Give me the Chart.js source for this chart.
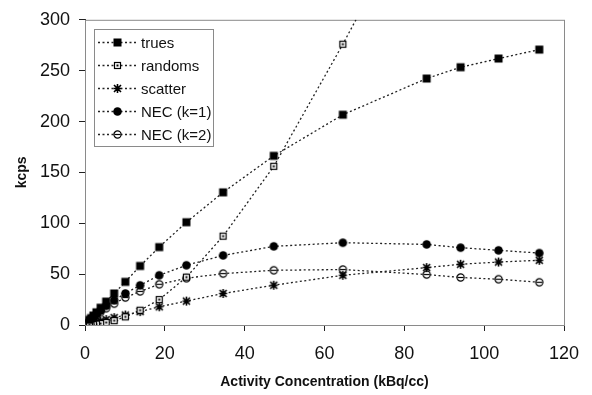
<!DOCTYPE html>
<html>
<head>
<meta charset="utf-8">
<script src="https://cdn.jsdelivr.net/npm/chart.js@4.4.1/dist/chart.umd.min.js"></script>
<style>
  html, body { margin: 0; padding: 0; background: #fff; }
  #wrap { width: 592px; height: 395px; }
</style>
</head>
<body>
<div id="wrap"><canvas id="chart" width="592" height="395"></canvas></div>
<script>
// activity concentration (kBq/cc)
var activity = [113.8, 103.6, 94.1, 85.6, 64.6, 47.3, 34.6, 25.4, 18.6, 13.8, 10.1, 7.3, 5.3, 3.9, 2.85, 2.1, 1.5, 1.1];
// count rates (kcps)
var trues   = [270.7, 261.9, 253.4, 242.3, 206.7, 166.3, 130.4, 101, 76.6, 58, 42.4, 31, 23, 17, 12.5, 9.3, 6.8, 5.0];
var randoms = [760, 630, 520, 430, 276, 156, 87.3, 47, 25, 14.5, 8, 4.3, 2.4, 1.4, 0.8, 0.45, 0.25, 0.12];
var scatter = [63.6, 61.9, 59.7, 56.4, 48.9, 39.1, 31, 23.5, 17.9, 13.2, 9.8, 7.2, 5.3, 3.9, 2.9, 2.1, 1.5, 1.1];
var nec1    = [70.7, 73.4, 76, 79.2, 80.9, 77.3, 68.4, 58.7, 48.9, 39, 31, 24.4, 18.8, 14.2, 10.6, 7.9, 5.7, 4.2];
var nec2    = [42, 45, 46.7, 49.6, 54.5, 53.8, 50.5, 46, 40, 33, 27, 21, 16.5, 12.8, 9.7, 7.3, 5.3, 4.0];

var xTicks = [0, 20, 40, 60, 80, 100, 120];
var yTicks = [0, 50, 100, 150, 200, 250, 300];

function toXY(ys) {
    return activity.map(function(x, i) { return { x: x, y: ys[i] }; });
}

// little marker images, drawn once
function marker(kind) {
    var c = document.createElement('canvas');
    c.width = 11; c.height = 11;
    var g = c.getContext('2d');
    g.fillStyle = '#000'; g.strokeStyle = '#000'; g.lineWidth = 1;
    if (kind === 'sq') {
        g.fillRect(1.5, 1.5, 8, 8);
    } else if (kind === 'sqo') {
        g.fillStyle = '#fff'; g.fillRect(2, 2, 7, 7);
        g.lineWidth = 1.2;
        g.strokeRect(2.5, 2.5, 6, 6);
        g.fillStyle = '#000'; g.fillRect(4.5, 4.5, 2, 2);
    } else if (kind === 'star') {
        g.lineWidth = 1.6;
        g.beginPath();
        g.moveTo(2, 2); g.lineTo(9, 9);
        g.moveTo(9, 2); g.lineTo(2, 9);
        g.moveTo(5.5, 1); g.lineTo(5.5, 10);
        g.moveTo(1.5, 5.5); g.lineTo(9.5, 5.5);
        g.stroke();
    } else if (kind === 'dot') {
        g.beginPath(); g.arc(5.5, 5.5, 4.3, 0, Math.PI * 2); g.fill();
    } else if (kind === 'ring') {
        g.fillStyle = '#fff';
        g.lineWidth = 1.2;
        g.beginPath(); g.arc(5.5, 5.5, 3.6, 0, Math.PI * 2); g.fill(); g.stroke();
        g.beginPath(); g.moveTo(2.5, 5.5); g.lineTo(8.5, 5.5); g.stroke();
    }
    return c;
}

var series = [
    { label: 'trues',      data: trues,   img: marker('sq') },
    { label: 'randoms',    data: randoms, img: marker('sqo') },
    { label: 'scatter',    data: scatter, img: marker('star') },
    { label: 'NEC (k=1)',  data: nec1,    img: marker('dot') },
    { label: 'NEC (k=2)',  data: nec2,    img: marker('ring') }
];

// grey frame round the plot area
var frame = {
    id: 'frame',
    beforeDatasetsDraw: function(chart) {
        var a = chart.chartArea, ctx = chart.ctx;
        ctx.save();
        ctx.strokeStyle = '#8a8a8a';
        ctx.lineWidth = 1;
        ctx.strokeRect(a.left + 0.5, a.top + 0.5, a.right - a.left, a.bottom - a.top);
        ctx.restore();
    }
};

// legend box in the upper left corner of the plot
var boxLegend = {
    id: 'boxLegend',
    afterDraw: function(chart) {
        var ctx = chart.ctx;
        var x0 = 94, y0 = 29, w = 119, h = 117;
        ctx.save();
        ctx.fillStyle = '#fff';
        ctx.fillRect(x0, y0, w, h);
        ctx.strokeStyle = '#8a8a8a';
        ctx.lineWidth = 1;
        ctx.strokeRect(x0 + 0.5, y0 + 0.5, w, h);
        ctx.font = '15px "Liberation Sans", Arial, sans-serif';
        ctx.textBaseline = 'middle';
        series.forEach(function(s, i) {
            var y = 42.5 + i * 23;
            ctx.strokeStyle = '#222';
            ctx.lineWidth = 1.3;
            ctx.setLineDash([2, 2.5]);
            ctx.beginPath(); ctx.moveTo(98, y); ctx.lineTo(138, y); ctx.stroke();
            ctx.setLineDash([]);
            ctx.drawImage(s.img, 112, Math.round(y - 5.5));
            ctx.fillStyle = '#111';
            ctx.fillText(s.label, 141, y + 1);
        });
        ctx.restore();
    }
};

var tickFont = { family: '"Liberation Sans", Arial, sans-serif', size: 18 };
var titleFont = { family: '"Liberation Sans", Arial, sans-serif', size: 14, weight: 'bold' };

new Chart(document.getElementById('chart'), {
    type: 'scatter',
    data: {
        datasets: series.map(function(s) {
            return {
                label: s.label,
                data: toXY(s.data),
                showLine: true,
                borderColor: '#222',
                borderWidth: 1.3,
                borderDash: [2, 2.5],
                pointStyle: s.img,
                pointRadius: 5,
                pointHoverRadius: 5
            };
        })
    },
    plugins: [frame, boxLegend],
    options: {
        responsive: false,
        animation: false,
        layout: { padding: { left: 10, right: 28, top: 18, bottom: 0 } },
        plugins: { legend: { display: false }, tooltip: { enabled: false } },
        scales: {
            x: {
                type: 'linear', min: 0, max: 120,
                afterBuildTicks: function(s) { s.ticks = xTicks.map(function(v) { return { value: v }; }); },
                afterFit: function(s) { s.height = 70; },
                grid: { drawOnChartArea: false, drawTicks: true, tickLength: 6, color: '#222' },
                border: { display: true, color: '#222', width: 1 },
                ticks: { font: tickFont, color: '#111', padding: 12, maxRotation: 0 },
                title: { display: true, text: 'Activity Concentration (kBq/cc)', font: titleFont, color: '#111', padding: { top: 4, bottom: 4 } }
            },
            y: {
                type: 'linear', min: 0, max: 300,
                afterBuildTicks: function(s) { s.ticks = yTicks.map(function(v) { return { value: v }; }); },
                afterFit: function(s) { s.width = 75; },
                grid: { drawOnChartArea: false, drawTicks: true, tickLength: 6, color: '#222' },
                border: { display: true, color: '#222', width: 1 },
                ticks: { font: tickFont, color: '#111', padding: 9 },
                title: { display: true, text: 'kcps', font: titleFont, color: '#111', padding: { top: 4, bottom: 4 } }
            }
        }
    }
});
</script>
</body>
</html>
